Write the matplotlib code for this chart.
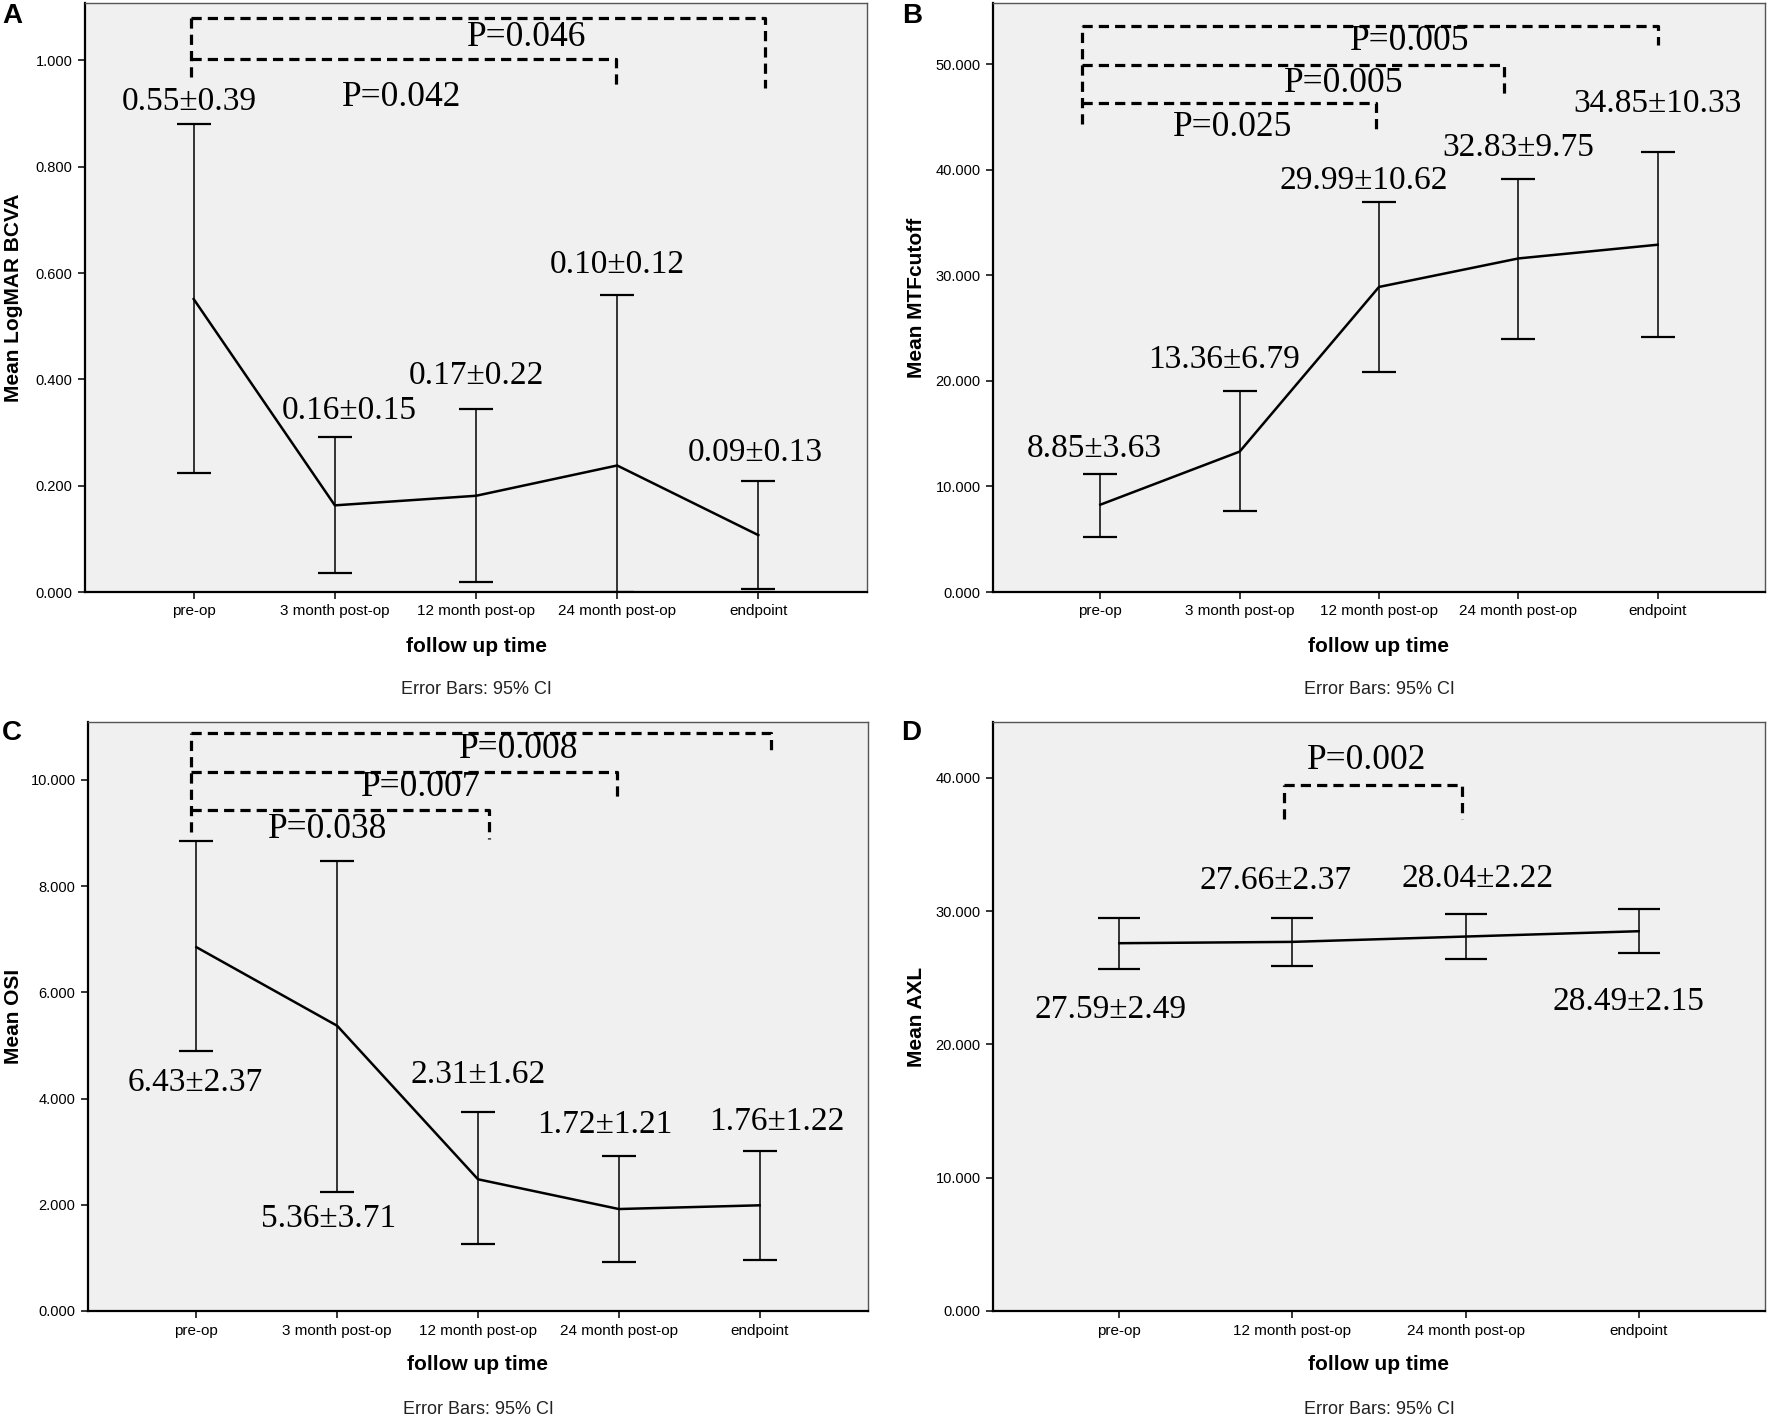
import matplotlib
matplotlib.use('Agg')
import matplotlib.pyplot as plt
import numpy as np

# categories
cats5 = ['pre-op', '3 month post-op', '12 month post-op', '24 month post-op', 'endpoint']
cats4 = ['pre-op', '12 month post-op', '24 month post-op', 'endpoint']

# A: LogMAR BCVA (mean, 95% CI)
bcva_mean = [0.551, 0.163, 0.181, 0.238, 0.107]
bcva_lo = [0.224, 0.035, 0.018, 0.000, 0.006]
bcva_hi = [0.880, 0.291, 0.345, 0.558, 0.209]
bcva_txt = ['0.55±0.39', '0.16±0.15', '0.17±0.22', '0.10±0.12', '0.09±0.13']

# B: MTF cutoff
mtf_mean = [8.27, 13.3, 28.9, 31.6, 32.9]
mtf_lo = [5.2, 7.7, 20.8, 24.0, 24.2]
mtf_hi = [11.2, 19.0, 36.9, 39.1, 41.7]
mtf_txt = ['8.85±3.63', '13.36±6.79', '29.99±10.62', '32.83±9.75', '34.85±10.33']

# C: OSI
osi_mean = [6.85, 5.37, 2.48, 1.92, 1.99]
osi_lo = [4.89, 2.25, 1.26, 0.93, 0.96]
osi_hi = [8.85, 8.48, 3.74, 2.92, 3.02]
osi_txt = ['6.43±2.37', '5.36±3.71', '2.31±1.62', '1.72±1.21', '1.76±1.22']

# D: AXL
axl_mean = [27.6, 27.7, 28.1, 28.5]
axl_lo = [25.7, 25.9, 26.4, 26.9]
axl_hi = [29.5, 29.5, 29.8, 30.2]
axl_txt = ['27.59±2.49', '27.66±2.37', '28.04±2.22', '28.49±2.15']

# p-values
p_a = ['P=0.046', 'P=0.042']
p_b = ['P=0.005', 'P=0.005', 'P=0.025']
p_c = ['P=0.008', 'P=0.007', 'P=0.038']
p_d = ['P=0.002']

W, H = 1772, 1420
SANS = ['Liberation Sans', 'DejaVu Sans']
SERIF = ['Liberation Serif', 'DejaVu Serif']
BG = '#f0f0f0'


def px_axes(fig, left, top, right, bottom):
    return fig.add_axes([left / W, 1 - bottom / H, (right - left) / W, (bottom - top) / H])


def draw_panel(ax, cats, mean, lo, hi, ylim, yticks, capsize):
    x = np.arange(len(cats))
    mean = np.array(mean)
    yerr = [mean - np.array(lo), np.array(hi) - mean]
    ax.set_facecolor(BG)
    ax.errorbar(x, mean, yerr=yerr, fmt='none', ecolor='black', elinewidth=1.1,
                capsize=capsize, capthick=1.6, zorder=3)
    ax.plot(x, mean, color='black', lw=1.8, zorder=4)
    pad = 0.77 if len(cats) == 5 else 0.73
    ax.set_xlim(-pad, len(cats) - 1 + pad)
    ax.set_ylim(*ylim)
    ax.set_yticks(yticks)
    ax.set_yticklabels(['{:.3f}'.format(v) for v in yticks], family=SANS, fontsize=10.5)
    ax.set_xticks(x)
    ax.set_xticklabels(cats, family=SANS, fontsize=11)
    ax.tick_params(direction='out', length=5, width=1.1, pad=4, color='black')
    for s in ['left', 'bottom']:
        ax.spines[s].set_linewidth(1.6)
        ax.spines[s].set_color('black')
    for s in ['top', 'right']:
        ax.spines[s].set_linewidth(1.0)
        ax.spines[s].set_color('#555555')


def brackets(ax, left_x, left_top, left_bottom, spans):
    dash = dict(color='black', lw=2.3, linestyle=(0, (3.2, 1.9)), zorder=2)
    ax.plot([left_x, left_x], [left_bottom, left_top], **dash)
    for x1, y, yend in spans:
        ax.plot([left_x, x1, x1], [y, y, yend], **dash)


def texts(ax, labels, pos, size):
    for s, (tx, ty) in zip(labels, pos):
        ax.text(tx, ty, s, ha='center', va='center', family=SERIF, fontsize=size, zorder=5)


def panel_labels(fig, ax_box, ylabel, letter, ylab_x, letter_xy, xlab_y, err_y):
    left, top, right, bottom = ax_box
    cx = (left + right) / 2 / W
    cy = 1 - (top + bottom) / 2 / H
    fig.text(ylab_x / W, cy, ylabel, rotation=90, ha='center', va='center',
             family=SANS, fontsize=15, fontweight='bold')
    fig.text(cx, 1 - xlab_y / H, 'follow up time', ha='center', va='center',
             family=SANS, fontsize=15, fontweight='bold')
    fig.text(cx, 1 - err_y / H, 'Error Bars: 95% CI', ha='center', va='center',
             family=SANS, fontsize=13, color='#222222')
    fig.text(letter_xy[0] / W, 1 - letter_xy[1] / H, letter, ha='center', va='center',
             family=SANS, fontsize=20, fontweight='bold')


fig = plt.figure(figsize=(W / 100, H / 100), dpi=100)

box_a = (85, 3, 867, 592)
box_b = (993, 3, 1765, 592)
box_c = (88, 722, 868, 1311)
box_d = (993, 722, 1765, 1311)

# Panel A
ax = px_axes(fig, *box_a)
draw_panel(ax, cats5, bcva_mean, bcva_lo, bcva_hi, (0, 1.108), [0, 0.2, 0.4, 0.6, 0.8, 1.0], 12)
brackets(ax, -0.02, 1.080, 0.968, [(4.05, 1.080, 0.949), (2.99, 1.003, 0.947)])
texts(ax, p_a, [(2.36, 1.043), (1.47, 0.931)], 25.5)
texts(ax, bcva_txt, [(-0.03, 0.922), (1.1, 0.341), (2.0, 0.407), (3.0, 0.616), (3.98, 0.262)], 24)
panel_labels(fig, box_a, 'Mean LogMAR BCVA', 'A', 14, (12, 16), 646, 689)

# Panel B
ax = px_axes(fig, *box_b)
draw_panel(ax, cats5, mtf_mean, mtf_lo, mtf_hi, (0, 55.8), [0, 10, 20, 30, 40, 50], 12)
brackets(ax, -0.13, 53.6, 44.3, [(4.0, 53.6, 51.8), (2.9, 49.9, 47.0), (1.98, 46.3, 43.5)])
texts(ax, p_b, [(2.22, 52.2), (1.75, 48.2), (0.95, 44.0)], 25.5)
texts(ax, mtf_txt, [(-0.04, 13.6), (0.89, 22.0), (1.89, 39.0), (3.0, 42.1), (4.0, 46.3)], 24)
panel_labels(fig, box_b, 'Mean MTFcutoff', 'B', 917, (912, 16), 646, 689)

# Panel C
ax = px_axes(fig, *box_c)
draw_panel(ax, cats5, osi_mean, osi_lo, osi_hi, (0, 11.09), [0, 2, 4, 6, 8, 10], 12)
brackets(ax, -0.04, 10.89, 9.02, [(4.08, 10.89, 10.49), (2.99, 10.14, 9.58), (2.08, 9.43, 8.89)])
texts(ax, p_c, [(2.29, 10.57), (1.59, 9.85), (0.93, 9.06)], 25.5)
texts(ax, osi_txt, [(-0.01, 4.30), (0.94, 1.73), (2.0, 4.45), (2.90, 3.50), (4.12, 3.56)], 24)
panel_labels(fig, box_c, 'Mean OSI', 'C', 14, (12, 733), 1365, 1409)

# Panel D
ax = px_axes(fig, *box_d)
draw_panel(ax, cats4, axl_mean, axl_lo, axl_hi, (0, 44.2), [0, 10, 20, 30, 40], 15)
brackets(ax, 0.95, 39.5, 36.9, [(1.98, 39.5, 36.9)])
texts(ax, p_d, [(1.43, 41.3)], 25.5)
texts(ax, axl_txt, [(-0.05, 22.6), (0.90, 32.3), (2.07, 32.4), (2.94, 23.2)], 24)
panel_labels(fig, box_d, 'Mean AXL', 'D', 917, (911, 733), 1365, 1409)

fig.savefig('out.png', dpi=100, facecolor='white')
